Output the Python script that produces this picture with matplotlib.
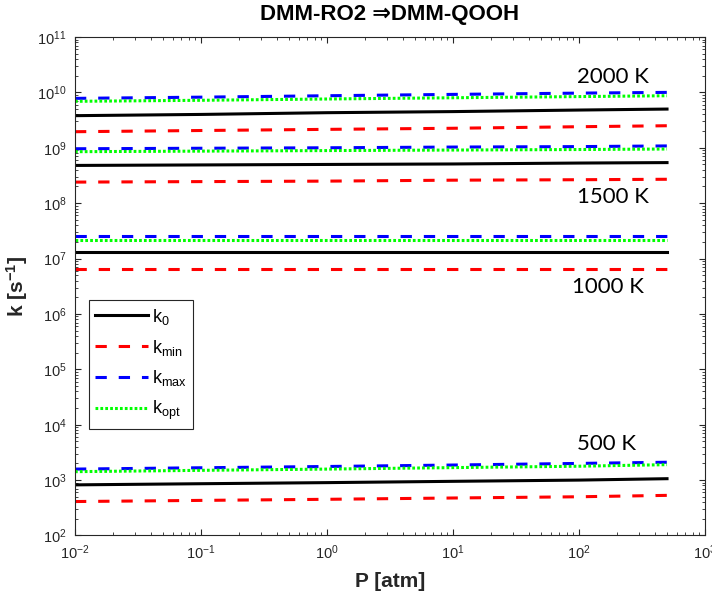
import numpy as np
import matplotlib
matplotlib.use('Agg')
import matplotlib.pyplot as plt
from matplotlib.ticker import LogLocator, NullFormatter

# pressure points [atm]
P = [1e-2, 1e-1, 1e0, 1e1, 1e2, 5e2]

temps = ['2000 K', '1500 K', '1000 K', '500 K']

k0_2000   = [3.8e9, 4.0e9, 4.3e9, 4.5e9, 4.8e9, 5.0e9]
kmin_2000 = [1.95e9, 2.05e9, 2.15e9, 2.25e9, 2.4e9, 2.5e9]
kmax_2000 = [7.8e9, 8.2e9, 8.7e9, 9.2e9, 9.7e9, 1.0e10]
kopt_2000 = [6.9e9, 7.2e9, 7.6e9, 8.0e9, 8.4e9, 8.7e9]

k0_1500   = [4.8e8, 4.9e8, 5.0e8, 5.1e8, 5.3e8, 5.4e8]
kmin_1500 = [2.4e8, 2.45e8, 2.5e8, 2.6e8, 2.65e8, 2.7e8]
kmax_1500 = [9.6e8, 9.8e8, 1.0e9, 1.03e9, 1.05e9, 1.08e9]
kopt_1500 = [8.5e8, 8.7e8, 8.9e8, 9.1e8, 9.3e8, 9.5e8]

k0_1000   = [1.3e7, 1.3e7, 1.3e7, 1.3e7, 1.3e7, 1.3e7]
kmin_1000 = [6.4e6, 6.4e6, 6.4e6, 6.4e6, 6.4e6, 6.4e6]
kmax_1000 = [2.55e7, 2.55e7, 2.55e7, 2.55e7, 2.55e7, 2.55e7]
kopt_1000 = [2.2e7, 2.2e7, 2.2e7, 2.2e7, 2.2e7, 2.2e7]

k0_500   = [8.2e2, 8.6e2, 9.0e2, 9.5e2, 1.0e3, 1.06e3]
kmin_500 = [4.1e2, 4.3e2, 4.5e2, 4.75e2, 5.0e2, 5.3e2]
kmax_500 = [1.58e3, 1.67e3, 1.76e3, 1.87e3, 2.0e3, 2.1e3]
kopt_500 = [1.42e3, 1.5e3, 1.58e3, 1.68e3, 1.78e3, 1.9e3]

# temperature label anchors (P, k)
label_P = [186, 186, 170, 166]
label_k = [1.9e10, 1.3e8, 3.1e6, 4.4e3]

sets = [
    (k0_2000, kmin_2000, kmax_2000, kopt_2000),
    (k0_1500, kmin_1500, kmax_1500, kopt_1500),
    (k0_1000, kmin_1000, kmax_1000, kopt_1000),
    (k0_500, kmin_500, kmax_500, kopt_500),
]

plt.rcParams['font.family'] = ['Liberation Sans', 'DejaVu Sans']
plt.rcParams['mathtext.fontset'] = 'custom'
plt.rcParams['mathtext.rm'] = 'Liberation Sans'
plt.rcParams['mathtext.bf'] = 'Liberation Sans:bold'
plt.rcParams['mathtext.default'] = 'regular'

fig = plt.figure(figsize=(7.12, 5.93), dpi=100)
ax = fig.add_axes([0.1053, 0.097, 0.8848, 0.8406])

lw = 2.2
for i, (k0, kmin, kmax, kopt) in enumerate(sets):
    ax.loglog(P, k0, '-', color='black', lw=lw, label='k$_0$' if i == 0 else None)
    ax.loglog(P, kmin, '--', color='#ff0000', lw=lw, dashes=(3.7, 3.9),
              label='k$_{min}$' if i == 0 else None)
    ax.loglog(P, kmax, '--', color='#0000ff', lw=lw, dashes=(3.7, 3.9),
              label='k$_{max}$' if i == 0 else None)
    ax.loglog(P, kopt, ':', color='#00ff00', lw=lw, dashes=(0.9, 0.7),
              label='k$_{opt}$' if i == 0 else None)

for t, px, py in zip(temps, label_P, label_k):
    ax.text(px, py, t, ha='center', va='center', fontsize=16,
            family=['Lato', 'DejaVu Sans'])

ax.set_xlim(1e-2, 1e3)
ax.set_ylim(1e2, 1e11)
ax.xaxis.set_major_locator(LogLocator(base=10, numticks=20))
ax.yaxis.set_major_locator(LogLocator(base=10, numticks=20))
ax.xaxis.set_minor_locator(LogLocator(base=10, subs=np.arange(2, 10), numticks=50))
ax.yaxis.set_minor_locator(LogLocator(base=10, subs=np.arange(2, 10), numticks=50))
ax.yaxis.set_minor_formatter(NullFormatter())
ax.xaxis.set_minor_formatter(NullFormatter())
ax.tick_params(which='both', direction='in', top=True, right=True,
               colors='#262626', labelsize=10.5, pad=6)
ax.tick_params(which='major', length=4.5, width=0.8)
ax.tick_params(which='minor', length=2.5, width=0.6)
for s in ax.spines.values():
    s.set_color('#262626')
    s.set_linewidth(0.8)

ax.set_xlabel('P [atm]', fontsize=15, fontweight='bold', color='#262626', labelpad=7)
ax.set_ylabel('k [s$^{\\mathbf{-1}}$]', fontsize=15, fontweight='bold',
              color='#262626', labelpad=5)
ax.set_title('DMM-RO2 \u21d2DMM-QOOH', fontsize=16, fontweight='bold', pad=12)

leg = ax.legend(loc='lower left', bbox_to_anchor=(0.022, 0.214), fontsize=13,
                fancybox=False, framealpha=1, edgecolor='#262626',
                handlelength=2.9, handletextpad=0.25, borderpad=0.35,
                labelspacing=0.6, borderaxespad=0)
leg.get_frame().set_linewidth(0.8)

fig.savefig('out.png', dpi=100)
